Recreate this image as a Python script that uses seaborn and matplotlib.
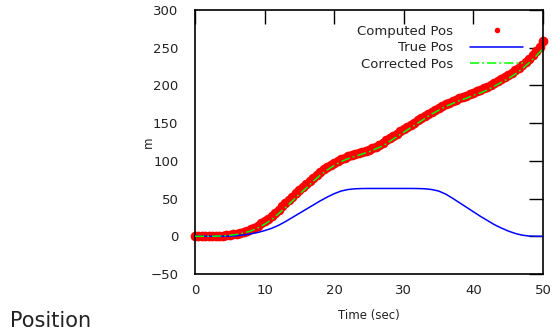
import numpy as np
import pandas as pd
import matplotlib
matplotlib.use("Agg")
import matplotlib.pyplot as plt
import seaborn as sns

# ---- data ----
t_comp = [i * 0.5 for i in range(101)]
computed_pos = [
    0, 0, 0, 0, 0, 0.1, 0.3, 0.6, 1, 1.5,
    2, 2.7, 3.5, 4.6, 6, 7.4, 9, 11.3, 14, 17,
    20, 23.5, 27.2, 31.2, 35.4, 39.7, 44, 48.3, 52.6, 57,
    61.3, 65.5, 69.7, 73.8, 77.8, 81.6, 85.2, 88.6, 91.8, 94.7,
    97.4, 99.8, 102, 104, 105.9, 107.5, 109, 110.5, 112, 113.5,
    115, 117, 119, 121.5, 124, 127, 130, 133, 136, 139,
    142, 145, 148, 150.8, 153.6, 156.4, 159.2, 162, 164.8, 167.5,
    170, 172.5, 174.8, 177, 179, 181, 183, 184.8, 186.6, 188.3,
    190, 192, 194, 196, 198, 200.4, 202.8, 205.4, 208, 211,
    214, 217, 220.3, 223.6, 227, 231, 235, 240, 245, 251.5,
    259,
]
t_line = list(range(51))
true_pos = [
    0, 0, 0, 0, 0, 0.2, 0.8, 1.8, 3.2, 5,
    7.5, 10.5, 14.5, 19.5, 25, 30.5, 36, 41.5, 47, 52,
    56.5, 60, 62, 63, 63.3, 63.4, 63.4, 63.4, 63.4, 63.4,
    63.4, 63.4, 63.3, 63, 62, 60, 56, 50.5, 44.5, 38.5,
    32.5, 26.5, 21, 15.5, 11, 7, 3.8, 1.5, 0.3, 0, 0,
]
corrected_pos = [
    0, 0, 0, 0.2, 0.6, 1.3, 2.5, 4.3, 7, 11,
    16, 22, 30, 38, 47, 56, 64, 73, 81, 88,
    94, 99, 103, 106, 109, 112, 116, 120, 126, 132,
    138, 144, 150, 156, 162, 167, 172, 176, 180, 183,
    187, 190, 194, 199, 204, 209, 215, 222, 230, 239,
    249,
]
labels = ["Computed Pos", "True Pos", "Corrected Pos"]
x_ticks = [0, 10, 20, 30, 40, 50]
y_ticks = [-50, 0, 50, 100, 150, 200, 250, 300]

sns.set_style("white")
plt.rcParams["font.family"] = ["DejaVu Sans"]

fig = plt.figure(figsize=(5.54, 3.36), dpi=100)
ax = fig.add_axes([195 / 554, 1 - 274 / 336, 348 / 554, 264 / 336])

df_c = pd.DataFrame({"t": t_comp, "v": computed_pos})
df_l = pd.DataFrame({"t": t_line, "true": true_pos, "corr": corrected_pos})

sns.lineplot(data=df_c, x="t", y="v", ax=ax, linestyle="none", marker="o",
             markersize=7, color="#ff0000", markeredgecolor="#ff0000",
             markeredgewidth=0, label=labels[0], zorder=2, clip_on=False)
sns.lineplot(data=df_l, x="t", y="true", ax=ax, color="#0000ff", linewidth=1.1,
             label=labels[1], zorder=3)
sns.lineplot(data=df_l, x="t", y="corr", ax=ax, color="#00ff00", linewidth=1.1,
             dashes=(6, 2, 1.2, 2), label=labels[2], zorder=4)

ax.set_xlim(0, 50)
ax.set_ylim(-50, 300)
ax.set_xticks(x_ticks)
ax.set_yticks(y_ticks)
ax.tick_params(direction="in", length=10, width=1, colors="black",
               top=True, right=True, labelsize=9.5, labelcolor="#222222")
ax.tick_params(axis="x", pad=7)
ax.tick_params(axis="y", pad=12)
for s in ax.spines.values():
    s.set_color("black")
    s.set_linewidth(1.2)

ax.set_xlabel("Time (sec)", fontsize=8.5, labelpad=9, color="#222222")
ax.set_ylabel("m", fontsize=8.5, labelpad=-3, color="#222222")

handles = ax.get_lines()[:3]
leg = ax.legend(handles=handles, labels=labels, loc="upper right",
                bbox_to_anchor=(0.9425, 0.945), frameon=False, markerfirst=False,
                fontsize=9.5, handlelength=4.0, handletextpad=1.3,
                labelspacing=0.28, borderpad=0, borderaxespad=0, numpoints=1)
for h in leg.legend_handles:
    try:
        h.set_markersize(4)
    except Exception:
        pass
for t in leg.get_texts():
    t.set_color("#222222")

fig.text(10 / 554, 1 - 327 / 336, "Position", fontsize=15, ha="left",
         va="baseline", color="#222222")

fig.savefig("out.png", dpi=100)
